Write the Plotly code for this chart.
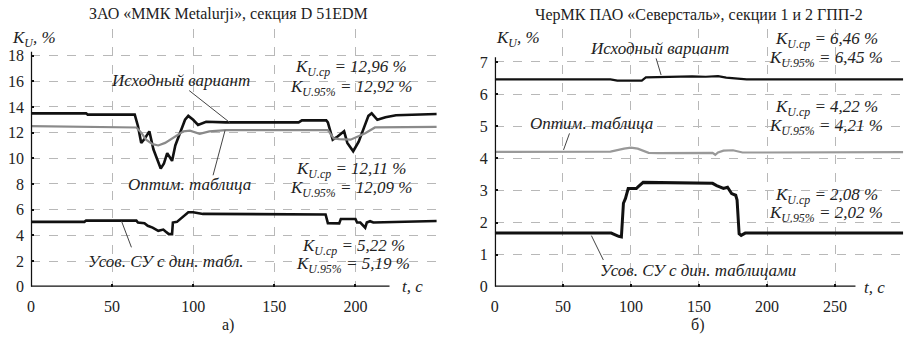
import plotly.graph_objects as go

# ---------------- data ----------------
# Left panel: ZAO "MMK Metalurji", section D 51EDM
a_t_orig = [0, 34, 35, 64, 66, 68, 70, 73, 75.5, 78, 80, 82, 84, 86, 87, 89, 92.5, 95, 97, 100, 103, 108, 120,
            165, 167, 182, 183, 186, 189, 193, 195, 198.6, 202, 205, 208, 210, 213.5, 218.5, 225, 250]
a_v_orig = [13.5, 13.5, 13.4, 13.4, 12.5, 11.2, 11.5, 12.1, 10.7, 9.8, 9.2, 9.6, 10.4, 10.0, 9.8, 11.0, 12.2,
            13.0, 13.3, 13.0, 12.6, 12.85, 12.8, 12.8, 12.95, 12.95, 12.8, 11.45, 11.7, 12.1, 11.2, 10.55, 11.3,
            12.3, 13.3, 13.5, 13.0, 13.2, 13.35, 13.45]

a_t_opt = [0, 35, 65, 68, 71, 75, 78.5, 82.7, 87.7, 94, 98, 104, 110, 120, 183, 186.6, 190, 197, 206, 212, 250]
a_v_opt = [12.5, 12.45, 12.4, 12.0, 11.45, 11.1, 11.0, 11.2, 11.6, 12.1, 12.15, 11.9, 12.1, 12.2, 12.2, 11.55,
           11.5, 11.45, 11.95, 12.4, 12.45]

a_t_dyn = [0, 33, 34, 65, 66, 69, 70, 72, 75, 78.5, 81.6, 83, 85, 87, 87.5, 90, 93, 97, 100, 106, 181.6, 183,
           190, 191, 200, 201, 203, 206, 207, 209, 211, 250]
a_v_dyn = [5.05, 5.05, 5.15, 5.15, 5.0, 5.0, 4.95, 4.75, 4.6, 4.35, 4.45, 4.3, 4.1, 4.1, 5.0, 5.05, 5.35, 5.8,
           5.8, 5.67, 5.63, 4.95, 4.93, 5.28, 5.28, 5.0, 5.0, 4.6, 5.0, 5.1, 5.0, 5.12]

# Right panel: CherMK PAO "Severstal", sections 1 and 2 GPP-2
b_t_orig = [0, 85, 90, 100, 108, 111, 120, 126, 135, 145, 155, 164, 170, 185, 300]
b_v_orig = [6.46, 6.46, 6.42, 6.41, 6.42, 6.52, 6.53, 6.55, 6.54, 6.55, 6.54, 6.56, 6.51, 6.46, 6.46]

b_t_opt = [0, 85, 95, 100, 105, 113, 120, 160, 162, 164, 168, 175, 182, 300]
b_v_opt = [4.2, 4.21, 4.3, 4.33, 4.3, 4.17, 4.16, 4.17, 4.11, 4.18, 4.24, 4.25, 4.18, 4.19]

b_t_dyn = [0, 85.5, 91, 93, 94.5, 96, 98, 104, 105, 109, 160, 163, 168, 171, 174, 177, 178, 179.5, 181, 184, 300]
b_v_dyn = [1.67, 1.67, 1.57, 1.55, 2.6, 2.75, 3.06, 3.06, 3.1, 3.25, 3.22, 3.15, 3.06, 3.1, 2.9, 2.85, 2.7,
           1.65, 1.6, 1.67, 1.67]

a_xticks = [0, 50, 100, 150, 200]
a_yticks = [0, 2, 4, 6, 8, 10, 12, 14, 16, 18]
b_xticks = [0, 50, 100, 150, 200, 250]
b_yticks = [0, 1, 2, 3, 4, 5, 6, 7]

# ---------------- layout helpers ----------------
W, H = 907, 342
def px(x):
    return x / W
def py(y):
    return 1 - y / H

FONT = "Liberation Serif"
TXT = "#222222"
GRID = "#b8b8b8"

fig = go.Figure()
fig.add_trace(go.Scatter(x=a_t_orig, y=a_v_orig, mode="lines", line=dict(color="#111111", width=2.6),
                         xaxis="x", yaxis="y", showlegend=False))
fig.add_trace(go.Scatter(x=a_t_opt, y=a_v_opt, mode="lines", line=dict(color="#8a8a8a", width=2.2),
                         xaxis="x", yaxis="y", showlegend=False))
fig.add_trace(go.Scatter(x=a_t_dyn, y=a_v_dyn, mode="lines", line=dict(color="#111111", width=2.6),
                         xaxis="x", yaxis="y", showlegend=False))
fig.add_trace(go.Scatter(x=b_t_orig, y=b_v_orig, mode="lines", line=dict(color="#111111", width=2.2),
                         xaxis="x2", yaxis="y2", showlegend=False))
fig.add_trace(go.Scatter(x=b_t_opt, y=b_v_opt, mode="lines", line=dict(color="#999999", width=2.2),
                         xaxis="x2", yaxis="y2", showlegend=False))
fig.add_trace(go.Scatter(x=b_t_dyn, y=b_v_dyn, mode="lines", line=dict(color="#111111", width=3),
                         xaxis="x2", yaxis="y2", showlegend=False))

ydom = [py(294.5), py(30)]
common_ax = dict(showline=False, zeroline=False, showgrid=True, gridcolor=GRID, griddash="dash", gridwidth=1,
                 ticks="inside", ticklen=3, tickcolor="#111", tickwidth=1.5,
                 tickfont=dict(family=FONT, size=16, color=TXT), fixedrange=True)

fig.update_layout(
    width=W, height=H, margin=dict(l=0, r=0, t=0, b=0),
    paper_bgcolor="white", plot_bgcolor="white",
    font=dict(family=FONT, color=TXT),
    xaxis=dict(domain=[px(27), px(435)], range=[0, 250.3], tickvals=a_xticks, anchor="y", ticklabelstandoff=8,
               minor=dict(dtick=50, showgrid=True, gridcolor=GRID, griddash="dash", ticks=""), **common_ax),
    yaxis=dict(domain=ydom, range=[0, 20.05], tickvals=a_yticks, anchor="x", ticklabelstandoff=6,
               minor=dict(dtick=2, showgrid=True, gridcolor=GRID, griddash="dash", ticks=""), **common_ax),
    xaxis2=dict(domain=[px(493), px(903.5)], range=[0, 300.3], tickvals=b_xticks, anchor="y2", ticklabelstandoff=8,
                minor=dict(dtick=50, showgrid=True, gridcolor=GRID, griddash="dash", ticks=""), **common_ax),
    yaxis2=dict(domain=ydom, range=[0, 8.02], tickvals=b_yticks, anchor="x2", ticklabelstandoff=6,
                minor=dict(dtick=1, showgrid=True, gridcolor=GRID, griddash="dash", ticks=""), **common_ax),
)

# axis lines (L-shaped, as in the reference)
for xr, yr, xend, yend in [("x", "y", 221, 18.3), ("x2", "y2", 265, 7.15)]:
    fig.add_shape(type="line", xref=xr, yref=yr, x0=0, y0=0, x1=xend, y1=0, line=dict(color="#111", width=2.5))
    fig.add_shape(type="line", xref=xr, yref=yr, x0=0, y0=0, x1=0, y1=yend, line=dict(color="#111", width=2.5))

def note(x, y, text, size=17, anchor="center"):
    fig.add_annotation(x=px(x), y=py(y), xref="paper", yref="paper", text=text, showarrow=False,
                       xanchor=anchor, yanchor="middle", font=dict(family=FONT, size=size, color=TXT))

def leader(x0, y0, x1, y1):
    fig.add_shape(type="line", xref="paper", yref="paper", x0=px(x0), y0=py(y0), x1=px(x1), y1=py(y1),
                  line=dict(color="#444", width=1))

def kval(x, y, sub, val):
    note(x, y, "<i>K<sub>" + sub + "</sub> = " + val + "</i>")

# titles
note(225, 14, "ЗАО «ММК Metalurji», секция D 51EDM", size=16)
note(698, 15, "ЧерМК ПАО «Северсталь», секции 1 и 2 ГПП-2", size=16)
note(225, 334, "а)", size=16)
note(697, 334, "б)", size=16)

# axis labels
note(30, 40, "<i>K<sub>U</sub>, %</i>", size=17)
note(516, 40, "<i>K<sub>U</sub>, %</i>", size=17)
note(410, 294, "<i>t, c</i>", size=17)
note(874, 295, "<i>t, c</i>", size=17)

# left panel texts
note(177, 83, "<i>Исходный вариант</i>")
leader(186, 93, 227, 126)
kval(349, 70, "U.ср", "12,96 %")
kval(349, 90, "U.95%", "12,92 %")
note(186, 189, "<i>Оптим. таблица</i>")
leader(210, 180, 222, 134)
kval(349, 175, "U.ср", "12,11 %")
kval(349, 194, "U.95%", "12,09 %")
note(163, 269, "<i>Усов. СУ с дин. табл.</i>")
leader(128, 254, 118, 227)
kval(351, 254, "U.ср", "5,22 %")
kval(351, 272, "U.95%", "5,19 %")

# right panel texts
note(658, 50, "<i>Исходный вариант</i>")
leader(655, 60, 660, 77)
kval(826, 41, "U.ср", "6,46 %")
kval(826, 61, "U.95%", "6,45 %")
note(590, 127, "<i>Оптим. таблица</i>")
leader(568, 137, 562, 154)
kval(826, 111, "U.ср", "4,22 %")
kval(826, 130, "U.95%", "4,21 %")
note(697, 278, "<i>Усов. СУ с дин. таблицами</i>")
leader(602, 267, 590, 242)
kval(826, 201, "U.ср", "2,08 %")
kval(826, 220, "U.95%", "2,02 %")

fig.write_html("out.html")
